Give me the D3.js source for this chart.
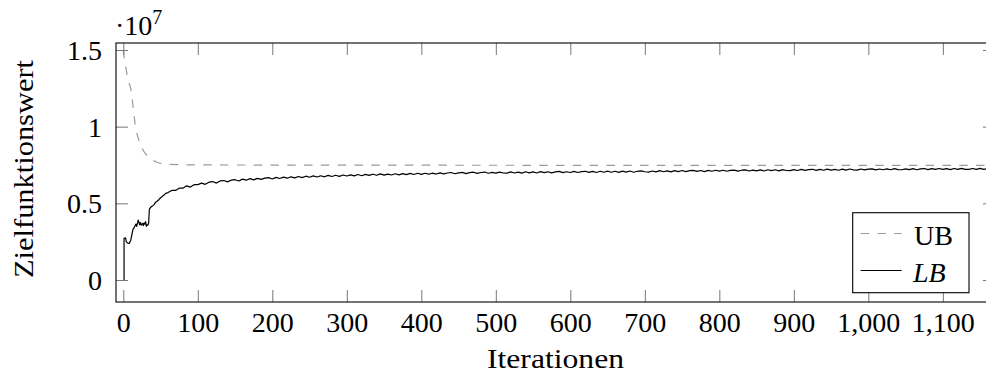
<!DOCTYPE html>
<html>
<head>
<meta charset="utf-8">
<script src="https://cdn.jsdelivr.net/npm/d3@7"></script>
<style>
  html, body { margin: 0; padding: 0; background: #fff; }
  svg { display: block; }
</style>
</head>
<body>
<svg id="chart" width="986" height="376"></svg>
<script>
// ---------------- DATA (values in units of 1e7) ----------------
const xTicks = [0, 100, 200, 300, 400, 500, 600, 700, 800, 900, 1000, 1100];
const yTicks = [0, 0.5, 1, 1.5];
const seriesNames = ["UB", "LB"];

// Upper bound: [iteration, value]
const ubPoints = [
  [0, 1.50], [2, 1.42], [4, 1.37], [6, 1.31], [8, 1.28], [10, 1.25], [12, 1.18],
  [14, 1.09], [16, 1.01], [18, 0.96], [20, 0.925], [22, 0.895], [25, 0.86],
  [28, 0.835], [32, 0.81], [36, 0.795], [40, 0.78], [45, 0.768], [50, 0.76],
  [60, 0.754], [80, 0.751], [150, 0.750], [300, 0.749], [600, 0.748],
  [900, 0.747], [1170, 0.747]
];

// Lower bound, early iterations: [iteration, value]
const lbEarly = [
  [1, 0], [1, 0.272], [3, 0.275], [4, 0.25], [6, 0.24], [8, 0.238], [10, 0.26],
  [11, 0.285], [13, 0.33], [15, 0.345], [17, 0.365], [18, 0.35], [20, 0.39],
  [21, 0.375], [22, 0.36], [23, 0.375], [24, 0.358], [26, 0.37], [27, 0.355],
  [28, 0.372], [29, 0.365], [30, 0.38], [31, 0.35], [32, 0.36], [33, 0.358],
  [34, 0.37], [35, 0.462], [37, 0.475], [39, 0.482], [41, 0.49], [43, 0.505],
  [45, 0.512], [47, 0.52], [49, 0.532], [51, 0.54], [53, 0.548], [55, 0.556],
  [57, 0.565]
];

// Lower bound, iterations 60, 65, 70, ... 1160 (one value every 5 iterations)
const lbStart = 60;
const lbStep = 5;
const lbLater = [
  .570, .584, .584, .599, .599, .614, .606, .622, .622, .632, .624, .638, .642, .632,
  .646, .649, .640, .652, .654, .646, .658, .651, .661, .653, .663, .656, .664, .668, .659,
  .669, .662, .671, .664, .673, .666, .675, .668, .677, .670, .679, .672, .680, .673,
  .682, .675, .683, .676, .685, .678, .686, .679, .688, .680, .689, .682, .690, .683,
  .692, .684, .691, .685, .693, .686, .694, .687, .695, .688, .696, .689,
  .696, .690, .697, .691, .699, .692, .698, .701, .693, .699,
  .702, .694, .700, .703, .695, .701, .704, .696, .702, .697,
  .704, .698, .697, .705, .698, .704, .697, .706, .699, .705,
  .698, .707, .700, .706, .699, .705, .708, .700, .706, .701,
  .708, .701, .707, .709, .702, .708, .701, .709, .703, .710,
  .703, .709, .702, .710, .704, .711, .703, .709, .712, .706,
  .704, .711, .705, .713, .706, .712, .705, .713, .707, .714,
  .707, .713, .715, .708, .714, .707, .715, .709, .716, .710,
  .716, .709, .715, .717, .710, .716, .718, .711, .717, .712,
  .718, .711, .719, .713, .719, .712, .720, .714, .713, .720,
  .714, .721, .715, .720, .722, .715, .721, .716, .723, .717,
  .722, .716, .723, .717, .724, .718, .717, .724, .718, .723,
  .725, .718, .724, .719, .725, .719, .726, .720, .719, .725,
  .720, .726, .719, .725, .727, .720, .726, .721, .727, .721,
  .726, .720, .727, .721, .728, .722, .721, .727, .722, .728, .722, .727
];

// ---------------- CHART ----------------
const FONT = '"Liberation Serif"';
const svg = d3.select("#chart").attr("font-family", FONT);
const L = 116, R = 995, T = 43, B = 302;
const FS = 28;

svg.append("rect").attr("width", 986).attr("height", 376).attr("fill", "#fff");

const x = d3.scaleLinear().domain([-9.8, 1170]).range([L, R]);
const y = d3.scaleLinear().domain([-0.1435, 1.5457]).range([B, T]);

const lbPoints = lbEarly.concat(lbLater.map((v, i) => [lbStart + i * lbStep, v]));

const line = d3.line().x(d => x(d[0])).y(d => y(d[1]));

// data lines
svg.append("path").datum(ubPoints)
  .attr("d", line).attr("fill", "none")
  .attr("stroke", "#9a9a9a").attr("stroke-width", 1.2)
  .attr("stroke-dasharray", "8.4,8.4");

svg.append("path").datum(lbPoints)
  .attr("d", line).attr("fill", "none")
  .attr("stroke", "#000").attr("stroke-width", 1.2)
  .attr("stroke-linejoin", "round");

// axes with inward ticks (bottom, top, left, right)
const tickLen = 12;
const fmtX = d3.format(",");
const fmtY = d => String(d);

const axB = d3.axisBottom(x).tickValues(xTicks).tickSize(-tickLen).tickSizeOuter(0).tickFormat(fmtX);
const axT = d3.axisTop(x).tickValues(xTicks).tickSize(-tickLen).tickSizeOuter(0).tickFormat("");
const axLft = d3.axisLeft(y).tickValues(yTicks).tickSize(-tickLen).tickSizeOuter(0).tickFormat(fmtY);
const axRgt = d3.axisRight(y).tickValues(yTicks).tickSize(-tickLen).tickSizeOuter(0).tickFormat("");

function styleAxis(g) {
  g.select(".domain").remove();
  g.attr("font-family", FONT).attr("font-size", FS);
  g.selectAll(".tick line").attr("stroke", "#777").attr("stroke-width", 1);
  g.selectAll(".tick text").attr("font-family", FONT).attr("font-size", FS).attr("fill", "#000");
}

const gB = svg.append("g").attr("transform", `translate(0,${B})`).call(axB).call(styleAxis);
gB.selectAll(".tick text").attr("y", 0).attr("dy", 0).attr("transform", "translate(0,30)");

svg.append("g").attr("transform", `translate(0,${T})`).call(axT).call(styleAxis);

const gL = svg.append("g").attr("transform", `translate(${L},0)`).call(axLft).call(styleAxis);
gL.selectAll(".tick text").attr("x", -14).attr("dy", "0.34em").attr("text-anchor", "end");

svg.append("g").attr("transform", `translate(${R},0)`).call(axRgt).call(styleAxis);

// frame
svg.append("rect")
  .attr("x", L).attr("y", T).attr("width", R - L).attr("height", B - T)
  .attr("fill", "none").attr("stroke", "#000").attr("stroke-width", 1.1);

// scale label  ·10^7
const sl = svg.append("text").attr("x", 115).attr("y", 35)
  .attr("font-family", FONT).attr("font-size", FS);
sl.append("tspan").text("·10");
sl.append("tspan").attr("font-size", 20).attr("dy", -11).text("7");

// axis titles
svg.append("text")
  .attr("x", (L + R) / 2).attr("y", 368)
  .attr("text-anchor", "middle").attr("font-family", FONT).attr("font-size", FS)
  .attr("textLength", 137).attr("lengthAdjust", "spacingAndGlyphs")
  .text("Iterationen");

svg.append("text")
  .attr("transform", "translate(33,169) rotate(-90)")
  .attr("text-anchor", "middle").attr("font-family", FONT).attr("font-size", FS)
  .attr("textLength", 218).attr("lengthAdjust", "spacingAndGlyphs")
  .text("Zielfunktionswert");

// legend
const lg = svg.append("g");
lg.append("rect")
  .attr("x", 852.7).attr("y", 212.7).attr("width", 116.3).attr("height", 80)
  .attr("fill", "#fff").attr("stroke", "#000").attr("stroke-width", 1.1);

lg.append("line").attr("x1", 860.7).attr("x2", 901.7).attr("y1", 233.5).attr("y2", 233.5)
  .attr("stroke", "#9a9a9a").attr("stroke-width", 1.2).attr("stroke-dasharray", "8.4,8.4");
lg.append("text").attr("x", 914).attr("y", 245)
  .attr("font-family", FONT).attr("font-size", FS)
  .attr("textLength", 39).attr("lengthAdjust", "spacingAndGlyphs").text(seriesNames[0]);

lg.append("line").attr("x1", 860.7).attr("x2", 901.7).attr("y1", 270.5).attr("y2", 270.5)
  .attr("stroke", "#000").attr("stroke-width", 1.2);
lg.append("text").attr("x", 913).attr("y", 282)
  .attr("font-family", FONT).attr("font-size", FS)
  .attr("font-style", "italic").text(seriesNames[1]);
</script>
</body>
</html>
